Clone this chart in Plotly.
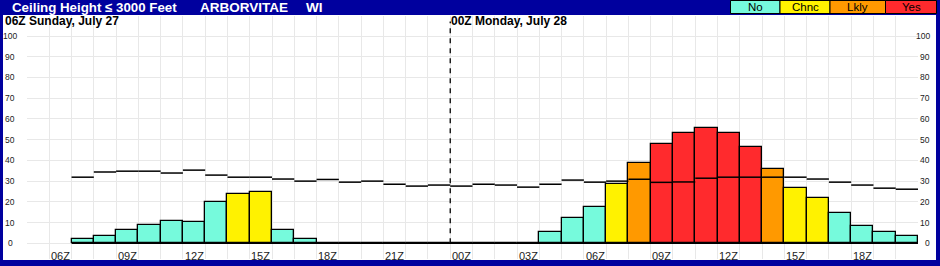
import plotly.graph_objects as go

# ---------------- data ----------------
# hourly axis: index 0 = 05Z Sun Jul 27, index 40 = 21Z Mon Jul 28
AXIS_HOURS = 40
FIRST_BAR_INDEX = 2            # 07Z Jul 27
DAY_BREAK_INDEX = 19           # 00Z Jul 28

prob_values = [2.0, 3.7, 6.3, 8.7, 10.6, 10.1, 19.8, 23.6, 24.6, 6.3, 1.9,
               0, 0, 0, 0, 0, 0,
               0, 0, 0, 0, 5.3, 12.1, 17.4, 28.5, 38.7, 47.7, 53.1, 55.5,
               53.1, 46.3, 35.8, 26.6, 21.8, 14.5, 8.2, 5.3, 3.4]
prob_category = ["No"] * 7 + ["Chnc"] * 2 + ["No"] * 8 + \
                ["No"] * 7 + ["Chnc", "Lkly", "Yes", "Yes", "Yes", "Yes", "Yes",
                              "Lkly", "Chnc", "Chnc", "No", "No", "No", "No"]
clim_values = [31.9, 34.4, 34.8, 34.8, 33.9, 35.3, 32.9, 31.9, 31.9, 31.0, 30.0,
               30.8, 29.5, 30.0, 28.5, 27.6, 28.1,
               27.6, 28.5, 28.1, 27.1, 28.5, 30.5, 29.5, 30.0, 30.9, 29.4, 29.6,
               31.4, 31.9, 31.9, 31.9, 31.9, 31.0, 29.5, 28.1, 26.6, 26.1]

x_tick_labels = ["06Z", "09Z", "12Z", "15Z", "18Z", "21Z", "00Z",
                 "03Z", "06Z", "09Z", "12Z", "15Z", "18Z"]
y_tick_values = [0, 10, 20, 30, 40, 50, 60, 70, 80, 90, 100]

legend_labels = ["No", "Chnc", "Lkly", "Yes"]
category_colors = {"No": "#76FADC", "Chnc": "#FFF200", "Lkly": "#FF9900", "Yes": "#FF2A2D"}

title_parts = ["Ceiling Height \u2264 3000 Feet", "ARBORVITAE", "WI"]
day_labels = ["06Z Sunday, July 27", "00Z Monday, July 28"]

# ---------------- layout helpers ----------------
W, H = 940, 266
L, R, T, B = 27, 22, 16, 7
PW, PH = W - L - R, H - T - B
BLUE = "#00009E"
FONT = "Liberation Sans, Arial, sans-serif"


def px_x(px):
    return (px - L) / PW


def px_y(py):
    return 1 - (py - T) / PH


fig = go.Figure()

n = len(prob_values)
bar_x = [FIRST_BAR_INDEX + i + 0.5 for i in range(n)]
fig.add_trace(go.Bar(
    x=bar_x, y=prob_values, width=1,
    marker=dict(color=[category_colors[c] for c in prob_category],
                line=dict(color="black", width=1.3)),
    hoverinfo="skip", showlegend=False))

# baseline at zero across the data span
fig.add_trace(go.Scatter(
    x=[FIRST_BAR_INDEX, FIRST_BAR_INDEX + n], y=[0, 0], mode="lines",
    line=dict(color="black", width=1.5), hoverinfo="skip", showlegend=False))

# hourly horizontal step segments
lx, ly = [], []
for i, v in enumerate(clim_values):
    lx += [FIRST_BAR_INDEX + i, FIRST_BAR_INDEX + i + 1, None]
    ly += [v, v, None]
fig.add_trace(go.Scatter(
    x=lx, y=ly, mode="lines", line=dict(color="black", width=1.5),
    connectgaps=False, hoverinfo="skip", showlegend=False))

shapes = []
# white chart body
shapes.append(dict(type="rect", xref="paper", yref="paper",
                   x0=px_x(3), x1=px_x(936), y0=px_y(260), y1=px_y(15),
                   fillcolor="white", line=dict(width=0), layer="below"))
# day-break dashed line
shapes.append(dict(type="line", xref="x", yref="y",
                   x0=DAY_BREAK_INDEX, x1=DAY_BREAK_INDEX, y0=0, y1=107,
                   line=dict(color="black", width=1.3, dash="5px,5px"), layer="above"))

annotations = []
# legend boxes in header
legend_edges = [730.5, 780, 830, 885.5, 936.5]
for i, lab in enumerate(legend_labels):
    shapes.append(dict(type="rect", xref="paper", yref="paper",
                       x0=px_x(legend_edges[i]), x1=px_x(legend_edges[i + 1]),
                       y0=px_y(13.5), y1=px_y(0.5),
                       fillcolor=category_colors[lab],
                       line=dict(color="black", width=1), layer="above"))
    annotations.append(dict(xref="paper", yref="paper",
                            x=px_x((legend_edges[i] + legend_edges[i + 1]) / 2),
                            y=px_y(7.3), text=lab, showarrow=False,
                            xanchor="center", yanchor="middle",
                            font=dict(family=FONT, size=11.5, color="black")))

# title parts
for txt, xp, fs in zip(title_parts, [10, 198, 304], [13.3, 13.5, 13.5]):
    annotations.append(dict(xref="paper", yref="paper", x=px_x(xp), y=px_y(7.5),
                            text="<b>%s</b>" % txt, showarrow=False,
                            xanchor="left", yanchor="middle",
                            font=dict(family=FONT, size=fs, color="white")))

# day labels
for txt, xp in zip(day_labels, [3, 449]):
    annotations.append(dict(xref="paper", yref="paper", x=px_x(xp), y=px_y(21.5),
                            text="<b>%s</b>" % txt, showarrow=False,
                            xanchor="left", yanchor="middle",
                            font=dict(family=FONT, size=12, color="black")))

# x tick labels (centred in the hour cell)
for i, lab in enumerate(x_tick_labels):
    annotations.append(dict(xref="x", yref="y", x=1 + 3 * i + 0.5, y=-6.0,
                            text=lab, showarrow=False, xanchor="center",
                            yanchor="middle",
                            font=dict(family=FONT, size=11, color="#222222")))

# y tick labels on both sides
for v in y_tick_values:
    annotations.append(dict(xref="paper", yref="y", x=px_x(10), y=v,
                            text=str(v), showarrow=False, xanchor="center",
                            yanchor="middle",
                            font=dict(family=FONT, size=8.5, color="#222222")))
    annotations.append(dict(xref="paper", yref="y", x=px_x(931.5), y=v,
                            text=str(v), showarrow=False, xanchor="right",
                            yanchor="middle",
                            font=dict(family=FONT, size=8.5, color="#222222")))

fig.update_layout(
    width=W, height=H, margin=dict(l=L, r=R, t=T, b=B, pad=0),
    paper_bgcolor=BLUE, plot_bgcolor="rgba(0,0,0,0)",
    shapes=shapes, annotations=annotations, bargap=0,
    xaxis=dict(range=[0, AXIS_HOURS], tick0=0, dtick=1, showgrid=True,
               gridcolor="#E8E8E8", gridwidth=1, showticklabels=False,
               zeroline=False, showline=False, ticks="", fixedrange=True),
    yaxis=dict(range=[-7.57, 109.65], tick0=0, dtick=10, showgrid=True,
               gridcolor="#E8E8E8", gridwidth=1, showticklabels=False,
               zeroline=False, showline=False, ticks="", fixedrange=True),
    showlegend=False,
)

fig.write_html("out.html", config={"displayModeBar": False})
